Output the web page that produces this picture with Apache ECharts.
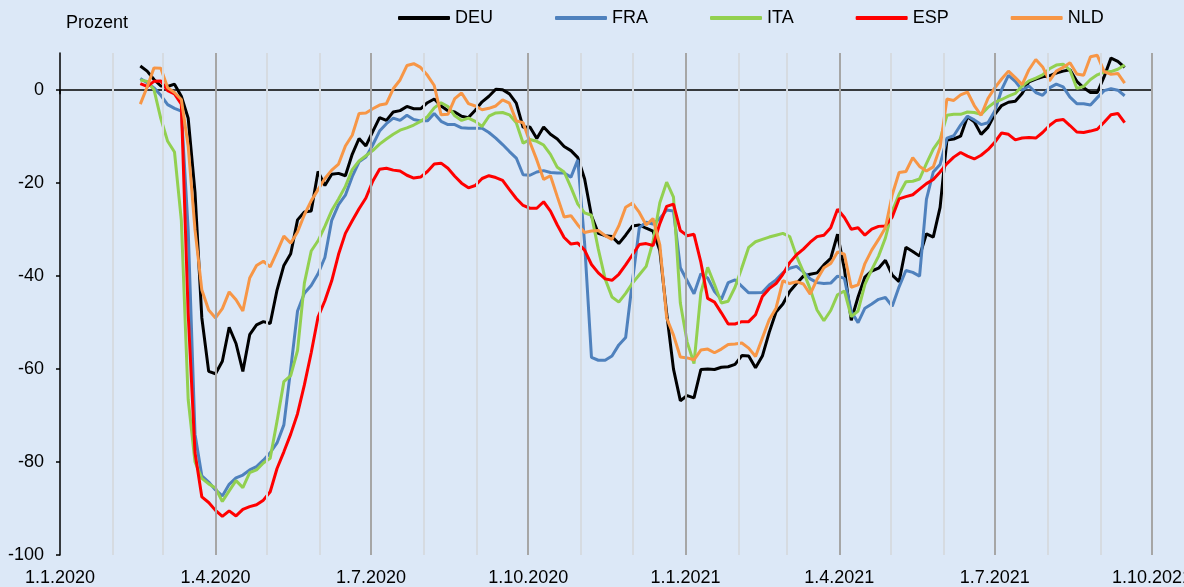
<!DOCTYPE html>
<html>
<head>
<meta charset="utf-8">
<title>Mobilität</title>
<script src="https://cdn.jsdelivr.net/npm/echarts@6/dist/echarts.min.js"></script>
<style>
	html, body { margin: 0; padding: 0; background: #dce8f7; }
	#chart { width: 1184px; height: 587px; }
</style>
</head>
<body>
<div id="chart"></div>
<script>
// values, one every 4 days from 17.2.2020
var DEU = [5.2, 4.1, 2.3, 0.9, 0.8, 1.3, -1.3, -6, -22, -49, -60.5, -61, -58.3, -51, -54.5, -60.5, -52.6, -50.5, -49.8, -50.2,
	-43, -37.7, -35.2, -27.9, -26.2, -26, -17.5, -20.5, -18.1, -17.9, -18.4, -13.8, -10.4, -12, -8.9, -5.9, -6.5, -4.7, -4.4, -3.5,
	-4, -4, -2.7, -1.9, -3.4, -4.4, -4.7, -5.6, -5.9, -4.3, -2.5, -1.3, 0.2, 0.1, -0.8, -2.8, -8, -7.9, -10.4, -7.9,
	-9.5, -10.5, -12.1, -13, -14.5, -19.1, -27, -30.8, -31.3, -31.5, -33, -31.2, -29.2, -29, -29.7, -30.3, -34.5, -48, -60, -66.8,
	-65.7, -66.2, -60.1, -60, -60.1, -59.6, -59.5, -59, -57.1, -57.2, -59.7, -57.2, -52.1, -47.7, -46, -43.3, -41.6, -40, -39.6, -39.3,
	-37.6, -36.2, -31, -38.5, -49.5, -44.5, -40.2, -38.9, -38.3, -36.6, -39.8, -41.2, -33.8, -34.7, -35.7, -30.9, -31.6, -25.2, -10.7, -10.5,
	-9.9, -5.7, -6.8, -9.5, -8, -5.2, -3.3, -2.6, -2.4, -0.7, 1.8, 2.4, 2.9, 3.1, 3.7, 4.1, 4.4, 1.9, 0.5, -0.5,
	-0.5, 2.9, 6.9, 6.2, 4.9];
var FRA = [2.5, 1.6, 0.5, -1.1, -3.1, -3.9, -4.5, -30, -74, -83, -84.3, -86, -87.3, -84.8, -83.4, -82.8, -81.7, -81, -79.6, -78,
	-75.9, -72, -60, -47.5, -43.7, -42, -39.5, -36, -28, -24.6, -22.6, -18.6, -15.4, -14.4, -11.8, -8.8, -7.2, -6, -6.5, -5.4,
	-6.3, -6.6, -6.6, -5, -6.7, -7.4, -7.4, -8.1, -8.2, -8.2, -8.2, -9.1, -10.3, -11.7, -13.2, -14.6, -18.2, -18.3, -17.6, -17.3,
	-17.7, -17.8, -17.8, -18.7, -15, -33, -57.5, -58.1, -58.1, -57.2, -54.8, -53.2, -41, -29.6, -28.4, -28.8, -27.6, -25.8, -26, -38.2,
	-41, -43.8, -39.5, -40.4, -43.3, -45, -41.4, -40.8, -42.2, -43.6, -43.6, -43.5, -41.9, -40.8, -39.3, -38.3, -37.9, -39.1, -40.6, -41.4,
	-41.6, -41.5, -40, -40.5, -47.6, -50, -46.9, -46, -45, -44.6, -46.5, -42.3, -38.8, -39.2, -40, -23.5, -17.6, -16, -10.3, -9.8,
	-7.5, -5.6, -6.4, -7.4, -7, -4.5, 0.1, 3.2, 1.9, 0, 0.9, -0.5, -1.1, 0.5, 1.3, 0.7, -1.5, -2.9, -2.9, -3.2,
	-1.6, -0.1, 0.3, 0, -1.2];
var ITA = [2.2, 1.9, 0.1, -6.1, -11, -13.3, -28, -66.5, -80, -83.5, -84.7, -85.6, -88.5, -86.2, -84, -85.5, -82.3, -81.7, -80.2, -79.2,
	-71.2, -62.7, -61.4, -56, -41.5, -34.6, -32.4, -29.3, -25.9, -23.4, -20.7, -17.1, -15.2, -14.1, -13, -11.6, -10.5, -9.5, -8.6, -8.1,
	-7.5, -6.7, -5.7, -3.8, -2.7, -3.5, -5.5, -6.5, -6, -6.7, -7.8, -5.6, -4.9, -4.8, -5.3, -7, -11.4, -10.6, -11, -11.8,
	-13.8, -16.6, -17.6, -20.9, -24.5, -26.4, -26.9, -34.2, -40.6, -44.5, -45.6, -43.7, -41.5, -39.7, -37.9, -32.6, -24.2, -19.8, -23, -45.8,
	-54.2, -58.8, -43.6, -38.1, -41.8, -45.8, -45.4, -42.4, -38.2, -33.8, -32.6, -32.1, -31.6, -31.2, -30.8, -31.5, -35.7, -39.1, -42.8, -47.3,
	-49.6, -47.4, -44, -43.2, -48.7, -47.5, -41.8, -38.6, -35.7, -31.8, -26, -22.4, -19.7, -19.6, -19.1, -15.8, -12.7, -10.6, -5.4, -5.2,
	-5.2, -4.7, -4.8, -5.2, -3.7, -2.6, -2, -1.3, -0.7, 0.9, 2, 2.6, 3.3, 4.6, 5.4, 5.6, 4.3, 0.4, 0.8, 2.3,
	3.3, 3.9, 4, 4.5, 5.4];
var ESP = [1.4, 0.8, 1.9, 2, -0.1, -0.8, -3, -48, -78, -87.5, -88.7, -90.4, -91.7, -90.5, -91.6, -90.2, -89.6, -89.2, -88.2, -86.4,
	-81.4, -77.8, -74, -69.6, -63.4, -56.5, -48.8, -45.3, -41, -35.3, -30.8, -28.1, -25.5, -23.2, -19.6, -17, -16.8, -17.2, -17.4, -18.3,
	-18.9, -18.7, -17.5, -15.9, -15.7, -16.8, -18.5, -20, -21, -20.5, -19, -18.4, -18.8, -19.4, -21.4, -23.3, -24.8, -25.4, -25.4, -24,
	-26, -29, -31.7, -33.1, -32.9, -34.4, -37.5, -39.3, -40.6, -40.9, -39.6, -37.6, -35.4, -33.2, -33, -33.4, -28.7, -25, -24.5, -30.2,
	-31.3, -31, -37, -44.8, -45.6, -47.9, -50.3, -50.3, -49.8, -49.8, -48.3, -44.4, -42.7, -41.6, -39.6, -37.1, -35.4, -34.2, -32.7, -31.5,
	-31.2, -29.6, -25.6, -27.4, -29.9, -29.6, -31.2, -29.9, -29.3, -29.2, -27.3, -23.4, -22.9, -22.5, -21.3, -20.1, -19.2, -17.6, -15.8, -14.4,
	-13.4, -14.2, -14.8, -14, -12.8, -11.2, -9.2, -9.5, -10.7, -10.3, -10.2, -10.3, -9.1, -7.6, -6.5, -6.3, -7.6, -9, -9.1, -8.8,
	-8.4, -6.9, -5.3, -5, -7];
var NLD = [-3, 0.7, 4.8, 4.7, 0.5, -0.5, -2, -12, -30, -43, -47.3, -49, -47, -43.4, -45.1, -47.5, -40.4, -37.7, -36.8, -38,
	-34.8, -31.4, -32.9, -30.5, -26.8, -23.8, -21.4, -19, -17.2, -15.9, -12, -9.7, -5, -4.9, -4, -3.2, -2.9, 0.3, 2.2, 5.3,
	5.7, 4.9, 3.2, 1, -5.3, -5.2, -1.8, -0.6, -2.9, -3.4, -4.2, -3.9, -3.4, -2.1, -2.8, -6.6, -7, -11.2, -15, -19.2,
	-18.4, -22.9, -27.3, -27, -29, -30.6, -30.3, -30.2, -31.3, -32.1, -29.2, -25.2, -24.3, -26.3, -29, -27.6, -33.3, -49, -52.7, -57.4,
	-57.6, -58, -55.9, -55.7, -56.5, -55.7, -54.7, -54.6, -54.4, -55.5, -57.3, -53.3, -49.4, -46.9, -41, -41.6, -41.2, -41.7, -43.9, -40.7,
	-38.2, -37.3, -34.8, -35.3, -42.4, -41.9, -37.3, -34.4, -32.1, -29.6, -22.5, -17.7, -17.5, -14.5, -16.4, -17.4, -16.5, -12.3, -1.9, -2.2,
	-1, -0.4, -3.3, -5.4, -1.8, 0.5, 2.4, 4.1, 2.7, 1.2, 4.4, 6.6, 5, 2, 4.1, 4.9, 5.9, 3.5, 3.2, 7.2,
	7.5, 4, 3.4, 3.6, 1.5];

var names = ['DEU', 'FRA', 'ITA', 'ESP', 'NLD'];
var colors = ['#000000', '#4f81bd', '#92d050', '#ff0000', '#f79646'];
var yTicks = [-100, -80, -60, -40, -20, 0];

var dates = DEU.map(function (v, i) { return new Date(2020, 1, 17 + 4 * i).getTime(); });

// month starts for gridlines and ticks, quarter starts for labels
var months = [], quarters = [];
for (var m = 0; m <= 21; m++) {
	var t = new Date(2020, m, 1).getTime();
	months.push(t);
	if (m % 3 === 0) quarters.push(t);
}

var chart = echarts.init(document.getElementById('chart'));
var font = 'Liberation Sans, Arial, sans-serif';

var gridLines = months.slice(1).map(function (t) {
	var q = quarters.indexOf(t) >= 0;
	return { xAxis: t, lineStyle: { color: q ? '#a6a6a6' : '#d6dbe1', width: 2, type: 'solid' } };
});

var series = [{
	name: 'grid',
	type: 'line',
	data: [],
	z: 1,
	silent: true,
	markLine: {
		silent: true,
		symbol: ['none', 'none'],
		label: { show: false },
		animation: false,
		data: gridLines
	}
}];
[DEU, FRA, ITA, ESP, NLD].forEach(function (vals, i) {
	series.push({
		name: names[i],
		type: 'line',
		z: 3,
		symbol: 'none',
		showSymbol: false,
		lineStyle: { color: colors[i], width: 3 },
		itemStyle: { color: colors[i] },
		data: vals.map(function (v, j) { return [dates[j], v]; })
	});
});

var fmt = function (v) {
	var d = new Date(v);
	return d.getDate() + '.' + (d.getMonth() + 1) + '.' + d.getFullYear();
};

// x axes are plain value axes holding timestamps, so custom tick values work
var option = {
	animation: false,
	backgroundColor: '#dce8f7',
	textStyle: { fontFamily: font },
	title: {
		text: 'Prozent',
		left: 66,
		top: 14,
		padding: 0,
		textStyle: { fontSize: 18, fontWeight: 'normal', color: '#000', fontFamily: font }
	},
	legend: {
		data: names,
		left: 398,
		top: 9,
		padding: 0,
		icon: 'roundRect',
		itemWidth: 52,
		itemHeight: 4,
		itemGap: 62,
		textStyle: { fontSize: 18, color: '#000', fontFamily: font }
	},
	grid: { left: 60, right: 32, top: 53, bottom: 32, outerBoundsMode: 'none' },
	xAxis: [{
		type: 'value',
		min: months[0],
		max: months[months.length - 1],
		axisLine: { onZero: true, lineStyle: { color: '#000', width: 1.5 } },
		axisTick: { show: true, customValues: months, length: 4, lineStyle: { color: '#000', width: 1.5 } },
		axisLabel: { show: false },
		splitLine: { show: false }
	}, {
		type: 'value',
		position: 'bottom',
		min: months[0],
		max: months[months.length - 1],
		axisLine: { show: false, onZero: false },
		axisTick: { show: false },
		splitLine: { show: false },
		axisLabel: {
			customValues: quarters,
			formatter: fmt,
			margin: 14,
			fontSize: 18,
			color: '#000',
			fontFamily: font
		}
	}],
	yAxis: {
		type: 'value',
		min: -100,
		max: 8,
		interval: 20,
		axisLine: { show: true, lineStyle: { color: '#000', width: 1.5 } },
		axisTick: { show: true, customValues: yTicks, length: 4, lineStyle: { color: '#000', width: 1.5 } },
		axisLabel: { customValues: yTicks, margin: 16, fontSize: 18, color: '#000', fontFamily: font },
		splitLine: { show: false }
	},
	series: series
};

chart.setOption(option);

window.onresize = function () {
	chart.resize();
};
</script>
</body>
</html>
